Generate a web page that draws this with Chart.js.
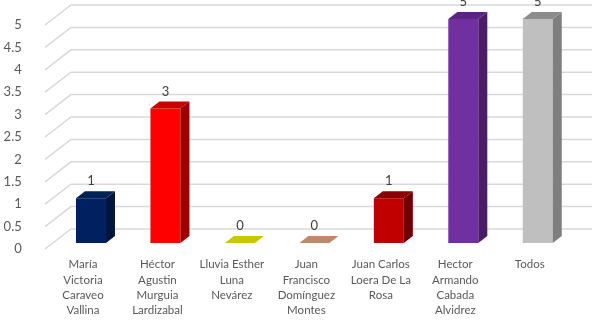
<!DOCTYPE html>
<html>
<head>
<meta charset="utf-8">
<script src="https://cdn.jsdelivr.net/npm/chart.js@4.4.1/dist/chart.umd.min.js"></script>
<style>
    html, body { margin: 0; padding: 0; background: #ffffff; }
    #wrap { width: 592px; height: 326px; position: relative; }
</style>
</head>
<body>
<div id="wrap"><canvas id="votesChart"></canvas></div>
<script>
// Chart data
const categories = [
    ['María', 'Victoria', 'Caraveo', 'Vallina'],
    ['Héctor', 'Agustin', 'Murguia', 'Lardizabal'],
    ['Lluvia Esther', 'Luna', 'Nevárez'],
    ['Juan', 'Francisco', 'Domínguez', 'Montes'],
    ['Juan Carlos', 'Loera De La', 'Rosa'],
    ['Hector', 'Armando', 'Cabada', 'Alvidrez'],
    ['Todos']
];
const votes = [1, 3, 0, 0, 1, 5, 5];
const valueTicks = [0, 0.5, 1, 1.5, 2, 2.5, 3, 3.5, 4, 4.5, 5];

// Bar face colours (front, right side, top)
const frontColors = ['#002060', '#FF0000', '#CCCC00', '#C4876A', '#C00000', '#7030A0', '#BFBFBF'];
const sideColors = ['#00163F', '#9E0000', '#9A9A00', '#93654F', '#700000', '#4A1D68', '#7F7F7F'];
const topColors = ['#002257', '#C80000', '#C8C800', '#C08868', '#8B0000', '#5A2580', '#8C8C8C'];

// 3D look: depth of each bar and of the back wall
const barDepth = { dx: 9, dy: -7 };
const wallDepth = { dx: 26, dy: -20 };
const gridColor = '#D9D9D9';

// Back wall grid + floor diagonals, drawn behind the bars
const wallPlugin = {
    id: 'wall',
    beforeDatasetsDraw(chart) {
        const { ctx, scales, width } = chart;
        const y = scales.y;
        const frontX = 45;
        ctx.save();
        ctx.strokeStyle = gridColor;
        ctx.lineWidth = 1.5;
        valueTicks.forEach(v => {
            const py = y.getPixelForValue(v);
            const backY = py - 14;
            const frontY = backY - wallDepth.dy;
            ctx.beginPath();
            ctx.moveTo(frontX, frontY);
            ctx.lineTo(frontX + wallDepth.dx, backY);
            ctx.lineTo(width, backY);
            ctx.stroke();
        });
        ctx.restore();
    }
};

// Side and top faces of the bars, plus value labels
const barsPlugin = {
    id: 'bars3d',
    afterDatasetsDraw(chart) {
        const { ctx } = chart;
        const meta = chart.getDatasetMeta(0);
        const { dx, dy } = barDepth;
        ctx.save();
        meta.data.forEach((bar, i) => {
            const left = bar.x - bar.width / 2;
            const right = bar.x + bar.width / 2;
            const top = bar.y;
            const base = bar.base;

            // right side
            if (base - top > 0.5) {
                ctx.fillStyle = sideColors[i];
                ctx.beginPath();
                ctx.moveTo(right, top);
                ctx.lineTo(right + dx, top + dy);
                ctx.lineTo(right + dx, base + dy);
                ctx.lineTo(right, base);
                ctx.closePath();
                ctx.fill();
            }

            // top
            ctx.fillStyle = topColors[i];
            ctx.beginPath();
            ctx.moveTo(left, top);
            ctx.lineTo(left + dx, top + dy);
            ctx.lineTo(right + dx, top + dy);
            ctx.lineTo(right, top);
            ctx.closePath();
            ctx.fill();

            // value label
            ctx.fillStyle = '#404040';
            ctx.font = '13px Lato';
            ctx.textAlign = 'center';
            ctx.textBaseline = 'middle';
            ctx.fillText(String(votes[i]), bar.x, top - 17);
        });
        ctx.restore();
    }
};

const ctx = document.getElementById('votesChart').getContext('2d');
const votesChart = new Chart(ctx, {
    type: 'bar',
    data: {
        labels: categories,
        datasets: [{
            data: votes,
            backgroundColor: frontColors,
            borderWidth: 0,
            categoryPercentage: 1,
            barPercentage: 0.403
        }]
    },
    options: {
        responsive: true,
        maintainAspectRatio: false,
        animation: false,
        layout: {
            padding: { top: 19, right: 17, left: 0, bottom: 0 }
        },
        scales: {
            x: {
                grid: { display: false },
                border: { display: false },
                ticks: {
                    color: '#595959',
                    font: { family: 'Lato', size: 11.5, lineHeight: '15.3px' },
                    padding: 6,
                    labelOffset: -8,
                    maxRotation: 0,
                    autoSkip: false
                },
                afterFit(scale) {
                    scale.height = 83;
                }
            },
            y: {
                min: 0,
                max: 5,
                grid: { display: false },
                border: { display: false },
                afterBuildTicks(scale) {
                    scale.ticks = valueTicks.map(v => ({ value: v }));
                },
                ticks: {
                    color: '#595959',
                    font: { family: 'Lato', size: 13 },
                    padding: 24,
                    labelOffset: 6,
                    callback: v => String(v)
                },
                afterFit(scale) {
                    // keep the tick padding from pushing the plot down
                    scale.width = 53.75;
                    scale.paddingTop = 0;
                    scale.paddingBottom = 0;
                }
            }
        },
        plugins: {
            legend: { display: false },
            tooltip: { enabled: false }
        }
    },
    plugins: [wallPlugin, barsPlugin]
});
</script>
</body>
</html>
